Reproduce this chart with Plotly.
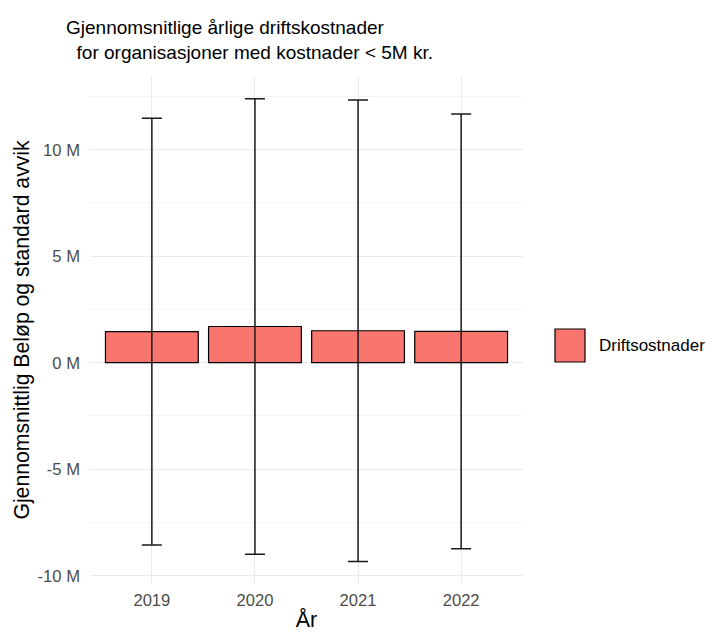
import plotly.graph_objects as go

years = ["2019", "2020", "2021", "2022"]
mean_mill = [1.46, 1.70, 1.50, 1.47]
sd_mill = [10.02, 10.69, 10.83, 10.21]
ytick_vals = [-10, -5, 0, 5, 10]
ytick_text = ["-10 M", "-5 M", "0 M", "5 M", "10 M"]
minor_vals = [-7.5, -2.5, 2.5, 7.5, 12.5]
legend_label = "Driftsostnader"

FONT = "Liberation Sans, Arial, Helvetica, sans-serif"
W, H = 706, 632
L, R, T, B = 90, 183, 76, 48
pw, ph = W - L - R, H - T - B

fig = go.Figure()
fig.add_trace(go.Bar(
    x=years, y=mean_mill, width=0.9,
    marker=dict(color="#F8766D", line=dict(color="black", width=1.2)),
    error_y=dict(type="data", array=sd_mill, visible=True,
                 color="#1a1a1a", thickness=1.5, width=10),
    showlegend=False, name=legend_label,
))

# manual legend key (ggplot style)
def px2x(px):
    return (px - L) / pw

def py2y(py):
    return (H - B - py) / ph

fig.add_shape(type="rect", xref="paper", yref="paper",
              x0=px2x(555), x1=px2x(585), y0=py2y(362), y1=py2y(329),
              fillcolor="#F8766D", line=dict(color="black", width=1.2))
fig.add_annotation(xref="paper", yref="paper", x=px2x(597), y=py2y(345.5),
                   text=legend_label, showarrow=False, xanchor="left", yanchor="middle",
                   font=dict(family=FONT, size=17, color="black"))

fig.update_layout(
    width=W, height=H,
    margin=dict(l=L, r=R, t=T, b=B, autoexpand=False),
    paper_bgcolor="white", plot_bgcolor="white",
    font=dict(family=FONT),
    title=dict(
        text="Gjennomsnitlige årlige driftskostnader<br>\u00a0\u00a0for organisasjoner med kostnader &lt; 5M kr.",
        xref="container", yref="container", x=66 / W, xanchor="left",
        y=1 - 34 / H, yanchor="top", automargin=False,
        font=dict(family=FONT, size=19, color="black"),
    ),
    xaxis=dict(
        type="category", range=[-0.6, 3.6], automargin=False,
        showgrid=True, gridcolor="#EBEBEB", gridwidth=1.2,
        zeroline=False, showline=False, ticks="",
        ticklabelstandoff=4,
        tickfont=dict(family=FONT, size=16.6, color="#4D4D4D"),
        title=dict(text="År", font=dict(family=FONT, size=21.5, color="black"), standoff=6),
    ),
    yaxis=dict(
        range=[-10.39, 13.46], automargin=False,
        tickvals=ytick_vals, ticktext=ytick_text,
        showgrid=True, gridcolor="#EBEBEB", gridwidth=1.2,
        zeroline=False, showline=False, ticks="",
        ticklabelstandoff=9,
        tickfont=dict(family=FONT, size=16.6, color="#4D4D4D"),
        minor=dict(tickvals=minor_vals, showgrid=True, gridcolor="#F4F4F4", gridwidth=0.8),
        title=dict(text="Gjennomsnittlig Beløp og standard avvik",
                   font=dict(family=FONT, size=21.2, color="black"), standoff=2),
    ),
)

fig.write_html("out.html", config={"displayModeBar": False},
               post_script="document.body.style.margin='0';document.body.style.padding='0';")
